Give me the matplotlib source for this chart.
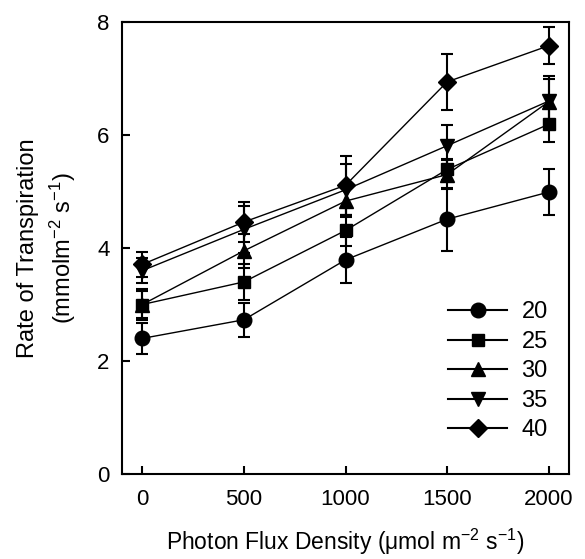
import numpy as np
import matplotlib
matplotlib.use('Agg')
from matplotlib import pyplot as plt
from matplotlib.lines import Line2D

plt.rcParams['font.family'] = ['Liberation Sans', 'DejaVu Sans']
plt.rcParams['mathtext.default'] = 'regular'

# photon flux density levels
pfd = [0, 500, 1000, 1500, 2000]
labels = ['20', '25', '30', '35', '40']
markers = ['o', 's', '^', 'v', 'D']

# transpiration rate per temperature
t20 = [2.40, 2.73, 3.79, 4.51, 4.99]
t25 = [3.00, 3.40, 4.31, 5.39, 6.19]
t30 = [3.00, 3.95, 4.83, 5.30, 6.59]
t35 = [3.60, 4.33, 5.03, 5.81, 6.60]
t40 = [3.71, 4.46, 5.11, 6.94, 7.58]

# error bars
e20 = [0.28, 0.30, 0.41, 0.56, 0.40]
e25 = [0.24, 0.32, 0.28, 0.18, 0.32]
e30 = [0.28, 0.30, 0.28, 0.25, 0.45]
e35 = [0.22, 0.42, 0.45, 0.36, 0.40]
e40 = [0.22, 0.35, 0.52, 0.50, 0.33]

series = [t20, t25, t30, t35, t40]
errs = [e20, e25, e30, e35, e40]
sizes = {'o': 10.5, 's': 9, '^': 10, 'v': 10, 'D': 9}

fig = plt.figure(figsize=(5.85, 5.59), dpi=100)
ax = fig.add_axes([122 / 585, 1 - 474 / 559, 447 / 585, 452 / 559])

handles = []
for y, e, m, lab in zip(series, errs, markers, labels):
    ax.errorbar(pfd, y, yerr=e, color='black', marker=m, markersize=sizes[m],
                linewidth=1.0, elinewidth=1.5, capsize=4.5, capthick=1.5)
    handles.append(Line2D([], [], color='black', marker=m, markersize=sizes[m],
                          linewidth=1.5, label=lab))

ax.set_xlim(-100, 2100)
ax.set_ylim(0, 8)
ax.set_xticks(pfd)
ax.set_yticks([0, 2, 4, 6, 8])
ax.tick_params(direction='in', length=6, width=1.5, labelsize=16)
ax.tick_params(axis='x', pad=11)
ax.tick_params(axis='y', pad=9)
for s in ax.spines.values():
    s.set_linewidth(1.5)

ax.set_xlabel('Photon Flux Density (\u03bcmol m$^{-2}$ s$^{-1}$)', fontsize=16.5, labelpad=12)
ax.set_ylabel('Rate of Transpiration\n(mmolm$^{-2}$ s$^{-1}$)', fontsize=17,
              labelpad=14, linespacing=1.35)

ax.legend(handles=handles, loc='lower right', bbox_to_anchor=(1.0, 0.025),
          frameon=False, fontsize=17, handlelength=2.5, labelspacing=0.32,
          handletextpad=0.6)

fig.savefig('out.png', dpi=100)
